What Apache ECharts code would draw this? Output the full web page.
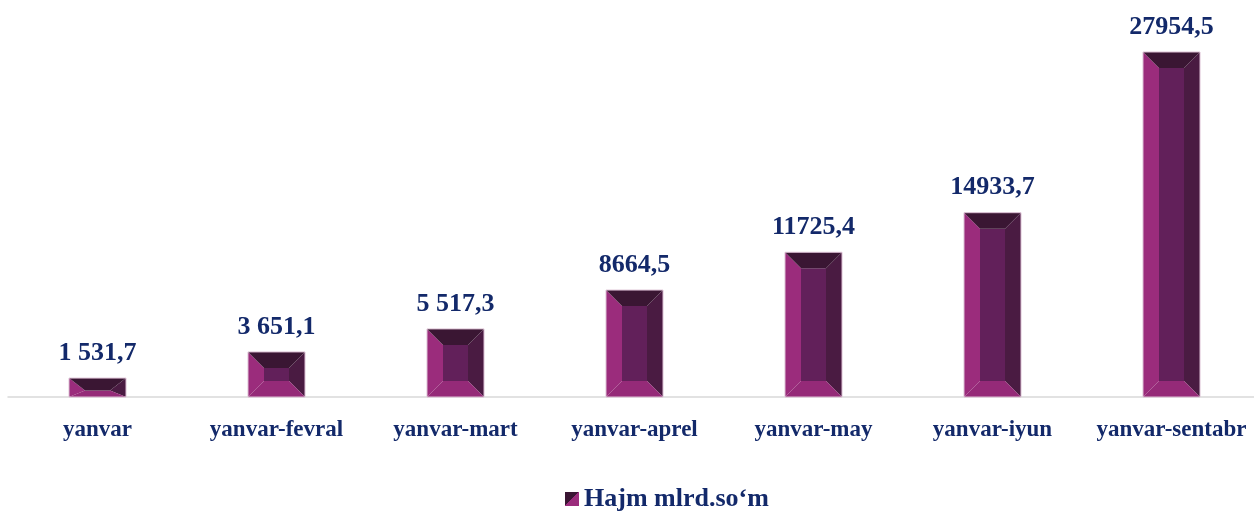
<!DOCTYPE html>
<html>
<head>
<meta charset="utf-8">
<script src="https://cdn.jsdelivr.net/npm/echarts@6/dist/echarts.min.js"></script>
<style>
  html, body { margin: 0; padding: 0; background: #fff; overflow: hidden; }
  #chart { width: 1261px; height: 511px; }
</style>
</head>
<body>
<div id="chart"></div>
<script>
'use strict';

var categories = ['yanvar', 'yanvar-fevral', 'yanvar-mart', 'yanvar-aprel', 'yanvar-may', 'yanvar-iyun', 'yanvar-sentabr'];
var values = [1531.7, 3651.1, 5517.3, 8664.5, 11725.4, 14933.7, 27954.5];
var valueLabels = ['1 531,7', '3 651,1', '5 517,3', '8664,5', '11725,4', '14933,7', '27954,5'];
var seriesName = 'Hajm mlrd.so‘m';

var TEXT = '#13296a';
var FONT = '"Liberation Serif", "Times New Roman", serif';

// bevel faces
var C_LEFT = '#9b2c7c';
var C_MID = '#62205a';
var C_RIGHT = '#4a1b42';
var C_TOP = '#3a1633';
var C_BOT = '#952a78';
var BAR_W = 57;
var BEVEL = 16;

function renderBar(params, api) {
    var idx = api.value(0);
    var top = api.coord([idx, api.value(1)]);
    var base = api.coord([idx, 0]);
    var x0 = top[0] - BAR_W / 2, x1 = top[0] + BAR_W / 2;
    var y0 = top[1], y1 = base[1];
    var h = y1 - y0;
    var dt = Math.min(BEVEL, h * 0.65);
    var db = Math.min(BEVEL, h - dt);
    var ds = BEVEL;
    var ix0 = x0 + ds, ix1 = x1 - ds, iy0 = y0 + dt, iy1 = y1 - db;
    function poly(pts, c) {
        return { type: 'polygon', shape: { points: pts }, style: { fill: c } };
    }
    return {
        type: 'group',
        children: [
            poly([[ix0, iy0], [ix1, iy0], [ix1, iy1], [ix0, iy1]], C_MID),
            poly([[x0, y0], [ix0, iy0], [ix0, iy1], [x0, y1]], C_LEFT),
            poly([[x1, y0], [ix1, iy0], [ix1, iy1], [x1, y1]], C_RIGHT),
            poly([[x0, y1], [ix0, iy1], [ix1, iy1], [x1, y1]], C_BOT),
            poly([[x0, y0], [x1, y0], [ix1, iy0], [ix0, iy0]], C_TOP),
            {
                type: 'rect',
                shape: { x: x0, y: y0, width: BAR_W, height: h },
                style: { fill: null, stroke: '#dcc0d4', lineWidth: 1 }
            },
            {
                type: 'text',
                style: {
                    text: valueLabels[idx],
                    x: top[0],
                    y: y0 - 12,
                    align: 'center',
                    verticalAlign: 'bottom',
                    fill: TEXT,
                    font: 'bold 26px ' + FONT
                }
            }
        ]
    };
}

var chart = echarts.init(document.getElementById('chart'));

var data = [];
for (var i = 0; i < values.length; i++) {
    data.push([i, values[i]]);
}

var option = {
    animation: false,
    grid: {
        left: 8,
        right: 0,
        top: 52,
        bottom: 114
    },
    legend: {
        data: [seriesName],
        left: 560,
        top: 481,
        icon: 'rect',
        itemWidth: 14,
        itemHeight: 14,
        itemGap: 6,
        textStyle: {
            color: TEXT,
            fontFamily: FONT,
            fontWeight: 'bold',
            fontSize: 26
        }
    },
    xAxis: {
        type: 'category',
        data: categories,
        axisLine: { lineStyle: { color: '#d9d9d9', width: 1.5 } },
        axisTick: { show: false },
        axisLabel: {
            color: TEXT,
            fontFamily: FONT,
            fontWeight: 'bold',
            fontSize: 23,
            margin: 22,
            interval: 0
        }
    },
    yAxis: {
        type: 'value',
        min: 0,
        max: 27954.5,
        show: false,
        splitLine: { show: false }
    },
    series: [{
        name: seriesName,
        type: 'custom',
        renderItem: renderBar,
        encode: { x: 0, y: 1 },
        itemStyle: {
            color: new echarts.graphic.LinearGradient(0, 0, 1, 1, [
                { offset: 0, color: C_TOP },
                { offset: 0.5, color: C_TOP },
                { offset: 0.5, color: C_LEFT },
                { offset: 1, color: C_LEFT }
            ])
        },
        data: data
    }]
};

chart.setOption(option);
</script>
</body>
</html>
